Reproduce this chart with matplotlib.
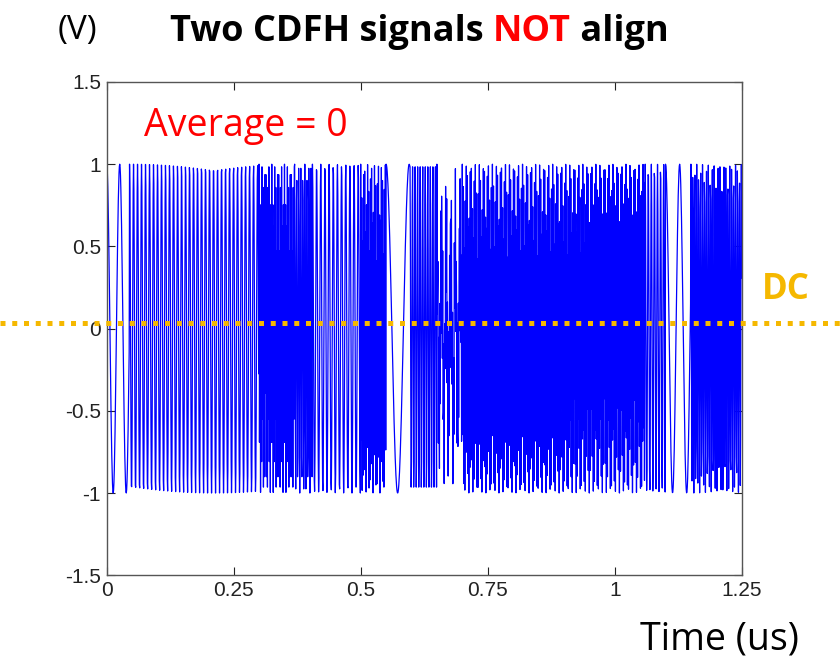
import numpy as np
import matplotlib
matplotlib.use("Agg")
import matplotlib.pyplot as plt
import matplotlib.transforms as mtransforms
from matplotlib.lines import Line2D

# ---- data ----
hop_edges = [0.0, 0.045, 0.30, 0.37, 0.405, 0.50, 0.55, 0.597, 0.65, 0.70, 1.06, 1.10, 1.15, 1.25]
freq_a = [39, 127, 520, 250, 122, 515, 22, 200, 523, 506, 165, 36, 262]   # cycles/us
freq_b = [39, 127, 520, 250, 122, 515, 22, 200, 110, 506, 165, 36, 262]
sample_rate = 1400   # samples/us of the plotted record
dc_level = 0.033
x_ticks = [0, 0.25, 0.5, 0.75, 1, 1.25]
y_ticks = [-1.5, -1, -0.5, 0, 0.5, 1, 1.5]
x_tick_labels = ["0", "0.25", "0.5", "0.75", "1", "1.25"]
y_tick_labels = ["-1.5", "-1", "-0.5", "0", "0.5", "1", "1.5"]

# build hopping waveform from the hop table (phase restarts at each hop)
t = np.arange(0, 1.25 + 1e-9, 1.0 / sample_rate)
v = np.zeros_like(t)
for i in range(len(hop_edges) - 1):
    m = (t >= hop_edges[i]) & (t < hop_edges[i + 1] + 1e-9)
    tl = t[m] - hop_edges[i]
    v[m] = 0.5 * np.cos(2 * np.pi * freq_a[i] * tl) + 0.5 * np.cos(2 * np.pi * freq_b[i] * tl)

fig = plt.figure(figsize=(8.4, 6.72), dpi=100)
ax = fig.add_axes([0.127, 0.144, 0.756, 0.734])
ax.plot(t, v, color="#0000ff", lw=0.9)
ax.set_xlim(0, 1.25)
ax.set_ylim(-1.5, 1.5)
ax.set_xticks(x_ticks)
ax.set_xticklabels(x_tick_labels)
ax.set_yticks(y_ticks)
ax.set_yticklabels(y_tick_labels)
ax.tick_params(direction="in", top=True, right=True, length=6, width=0.8,
               labelsize=15, colors="#222222", pad=4)
for lbl in ax.get_xticklabels() + ax.get_yticklabels():
    lbl.set_family("Liberation Sans")
for s in ax.spines.values():
    s.set_color("#555555")
    s.set_linewidth(1.0)

# DC dotted line across whole figure
tr = mtransforms.blended_transform_factory(fig.transFigure, ax.transData)
fig.add_artist(Line2D([0, 1], [dc_level, dc_level], transform=tr, color="#f5b800",
                      lw=3.6, linestyle=(0, (1.0, 1.35)), zorder=5))

fig.text(0.936, 0.568, "DC", color="#f5b800", fontsize=25, fontweight="bold",
         family="Open Sans", ha="center", va="center")
fig.text(0.293, 0.812, "Average = 0", color="#ff0000", fontsize=27,
         family="Open Sans", ha="center", va="center")
fig.text(0.092, 0.955, "(V)", color="black", fontsize=24, family="Open Sans",
         ha="center", va="center")
fig.text(0.857, 0.048, "Time (us)", color="black", fontsize=27, family="Open Sans",
         ha="center", va="center")

# multicolor title
pieces = [("Two CDFH signals ", "black"), ("NOT", "#ff0000"), (" align", "black")]
fig.canvas.draw()
r = fig.canvas.get_renderer()
x = 0.202
for txt, col in pieces:
    tt = fig.text(x, 0.953, txt, color=col, fontsize=26, fontweight="bold",
                  family="Open Sans", ha="left", va="center")
    bb = tt.get_window_extent(renderer=r)
    x += bb.width / fig.bbox.width

fig.savefig("out.png", dpi=100)
